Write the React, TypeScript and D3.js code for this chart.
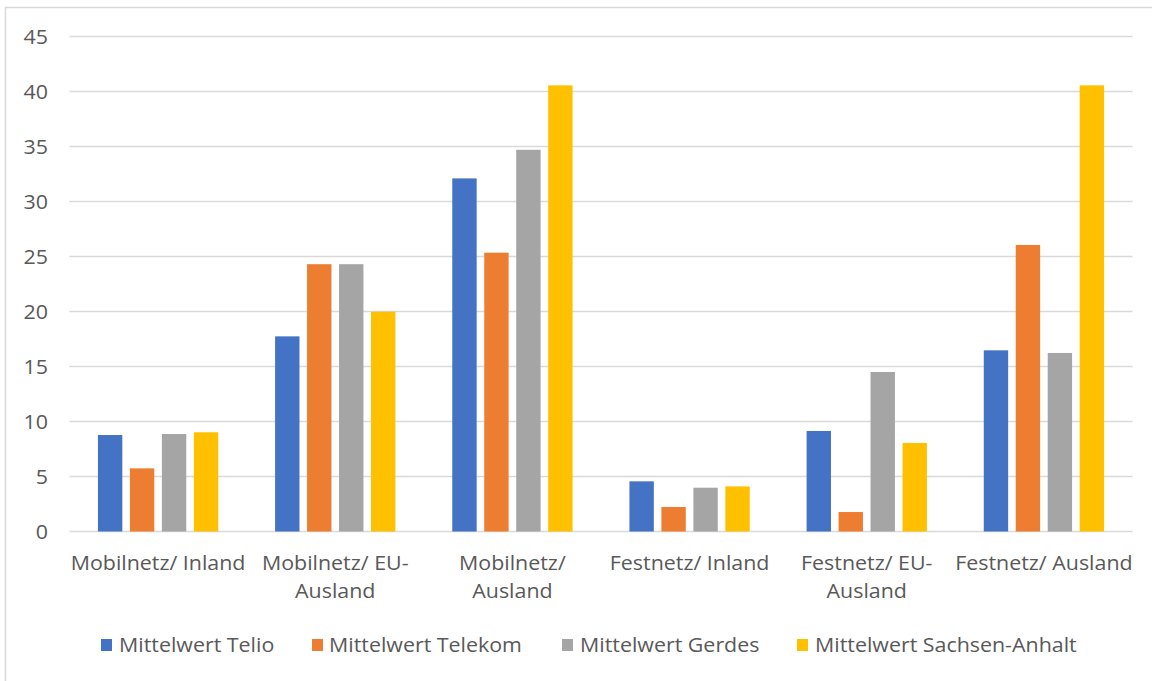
import React from "react";
import * as d3 from "d3";

// Categories (with their wrapped label lines) and series values
const categories = [
  "Mobilnetz/ Inland",
  "Mobilnetz/ EU-Ausland",
  "Mobilnetz/ Ausland",
  "Festnetz/ Inland",
  "Festnetz/ EU-Ausland",
  "Festnetz/ Ausland",
];
const categoryLines = [
  ["Mobilnetz/ Inland"],
  ["Mobilnetz/ EU-", "Ausland"],
  ["Mobilnetz/", "Ausland"],
  ["Festnetz/ Inland"],
  ["Festnetz/ EU-", "Ausland"],
  ["Festnetz/ Ausland"],
];

const seriesNames = [
  "Mittelwert Telio",
  "Mittelwert Telekom",
  "Mittelwert Gerdes",
  "Mittelwert Sachsen-Anhalt",
];
const seriesColors = ["#4472C4", "#ED7D31", "#A5A5A5", "#FFC000"];

const telio = [8.77, 17.74, 32.1, 4.56, 9.14, 16.47];
const telekom = [5.74, 24.3, 25.35, 2.23, 1.77, 26.05];
const gerdes = [8.86, 24.3, 34.7, 3.98, 14.5, 16.23];
const sachsenAnhalt = [9.02, 19.98, 40.56, 4.1, 8.05, 40.56];
const seriesValues = [telio, telekom, gerdes, sachsenAnhalt];

const yTicks = [0, 5, 10, 15, 20, 25, 30, 35, 40, 45];

const W = 1152;
const H = 681;
const FONT = "'Open Sans', 'Noto Sans', sans-serif";
const TEXT = "#595959";
const FS = 20;
const SX = 1.07; // slight horizontal widening of all labels

function Label(props: {
  x: number;
  y: number;
  anchor?: "start" | "middle" | "end";
  dy?: string;
  children: React.ReactNode;
}) {
  return (
    <g transform={`translate(${props.x},${props.y}) scale(${SX},1)`}>
      <text
        x={0}
        y={0}
        dy={props.dy}
        textAnchor={props.anchor || "start"}
        fontSize={FS}
        fill={TEXT}
      >
        {props.children}
      </text>
    </g>
  );
}

export default function App() {
  const plotLeft = 69.5;
  const plotRight = 1132.5;
  const y = d3.scaleLinear().domain([0, 45]).range([531.5, 36.5]);
  const x = d3
    .scaleBand<string>()
    .domain(categories)
    .range([plotLeft, plotRight])
    .padding(0);
  const groupWidth = 127.9;
  const inner = d3
    .scaleBand<string>()
    .domain(seriesNames)
    .range([(x.bandwidth() - groupWidth) / 2, (x.bandwidth() + groupWidth) / 2])
    .paddingInner(0.2375)
    .paddingOuter(0.2375 / 2);

  const legendItems = [
    { sq: 101, tx: 119 },
    { sq: 312, tx: 329 },
    { sq: 562, tx: 580 },
    { sq: 797, tx: 815 },
  ];

  return (
    <svg
      width={W}
      height={H}
      style={{ position: "absolute", left: 0, top: 0, background: "#fff" }}
      fontFamily={FONT}
    >
      <rect x={0} y={0} width={W} height={H} fill="#fff" />
      {/* chart area border */}
      <rect
        x={5.5}
        y={7.5}
        width={W + 20}
        height={H + 20}
        fill="none"
        stroke="#d9d9d9"
        strokeWidth={1.5}
      />
      {/* gridlines */}
      {yTicks.map((t) => (
        <line
          key={"g" + t}
          x1={plotLeft}
          x2={plotRight}
          y1={y(t)}
          y2={y(t)}
          stroke="#d9d9d9"
          strokeWidth={1.5}
        />
      ))}
      {/* y tick labels */}
      {yTicks.map((t) => (
        <Label key={"t" + t} x={48} y={y(t)} dy="0.36em" anchor="end">
          {t}
        </Label>
      ))}
      {/* bars */}
      {seriesNames.map((s, si) =>
        categories.map((c, ci) => {
          const v = seriesValues[si][ci];
          const bx = (x(c) as number) + (inner(s) as number);
          return (
            <rect
              key={s + c}
              x={bx}
              y={y(v)}
              width={inner.bandwidth()}
              height={y(0) - y(v)}
              fill={seriesColors[si]}
            />
          );
        })
      )}
      {/* category labels */}
      {categories.map((c, ci) =>
        categoryLines[ci].map((line, li) => (
          <Label
            key={"c" + c + li}
            x={(x(c) as number) + x.bandwidth() / 2}
            y={570 + li * 28}
            anchor="middle"
          >
            {line}
          </Label>
        ))
      )}
      {/* legend */}
      {seriesNames.map((s, si) => (
        <g key={"l" + s}>
          <rect
            x={legendItems[si].sq}
            y={639}
            width={11}
            height={12}
            fill={seriesColors[si]}
          />
          <Label x={legendItems[si].tx} y={651.5}>
            {s}
          </Label>
        </g>
      ))}
    </svg>
  );
}
